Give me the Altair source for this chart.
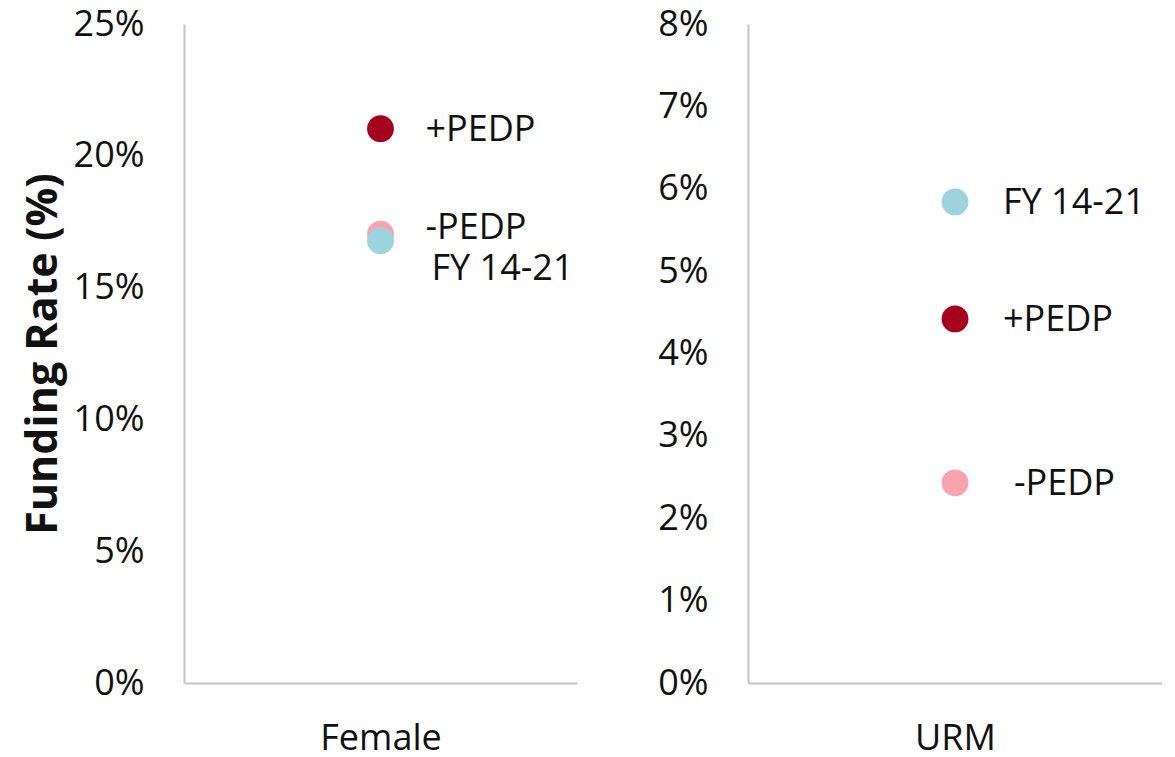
import altair as alt
import pandas as pd

FONT = "Open Sans"
TEXT_COLOR = "#111111"
AXIS_GRAY = "#C4C4C4"

series = ["+PEDP", "-PEDP", "FY 14-21"]
colors = ["#A6001F", "#F9A3B1", "#9DD3DC"]

female_rates = [0.2103, 0.1703, 0.1678]
urm_rates = [0.0442, 0.0243, 0.0584]

female_ticks = [0.0, 0.05, 0.10, 0.15, 0.20, 0.25]
urm_ticks = [0.0, 0.01, 0.02, 0.03, 0.04, 0.05, 0.06, 0.07, 0.08]


def panel(cat, rates, ymax, ticks, width, title, default_off, adjust):
    df = pd.DataFrame({"cat": [cat] * len(series), "series": series, "rate": rates})
    base = alt.Chart(df)
    x = alt.X(
        "cat:N",
        title=None,
        axis=alt.Axis(
            labelAngle=0, ticks=False, tickSize=0, labelFontSize=36, labelFont=FONT,
            labelColor=TEXT_COLOR, labelPadding=38, domainColor=AXIS_GRAY, domainWidth=2,
        ),
    )
    yaxis = dict(
        values=ticks, format=".0%", grid=False, ticks=False, tickSize=0,
        labelFontSize=36, labelFont=FONT, labelColor=TEXT_COLOR, labelPadding=40,
        domainColor=AXIS_GRAY, domainWidth=2,
    )
    if title:
        yaxis.update(title=title, titleFont=FONT, titleFontSize=43, titleFontWeight="bold",
                     titleColor=TEXT_COLOR, titlePadding=8)
    else:
        yaxis.update(title=None)
    y = alt.Y("rate:Q", scale=alt.Scale(domain=[0, ymax], nice=False), axis=alt.Axis(**yaxis))
    pts = base.mark_circle(size=720, opacity=1).encode(
        x=x, y=y,
        color=alt.Color("series:N", scale=alt.Scale(domain=series, range=colors), legend=None),
    )
    layers = [pts]
    groups = {}
    for s in series:
        groups.setdefault(adjust.get(s, default_off), []).append(s)
    for (dx, dy), ss in groups.items():
        layers.append(
            base.mark_text(align="left", baseline="middle", dx=dx, dy=dy, font=FONT,
                           fontSize=36, color=TEXT_COLOR)
            .encode(x=x, y=y, text="series:N")
            .transform_filter(alt.FieldOneOfPredicate(field="series", oneOf=ss))
        )
    return alt.layer(*layers).properties(width=width, height=659)


left = panel("Female", female_rates, 0.25, female_ticks, 393, "Funding Rate (%)",
             (45, 1), {"-PEDP": (45, -6), "FY 14-21": (51, 28)})
right = panel("URM", urm_rates, 0.08, urm_ticks, 414, None,
              (48, 1), {"-PEDP": (59, 1)})

chart = (
    alt.hconcat(left, right, spacing=80)
    .properties(padding={"left": 14, "top": -2, "right": 0, "bottom": 0})
    .configure_view(stroke="transparent", strokeWidth=0)
)

chart.save("out.html", embed_options={"renderer": "svg", "actions": False})
